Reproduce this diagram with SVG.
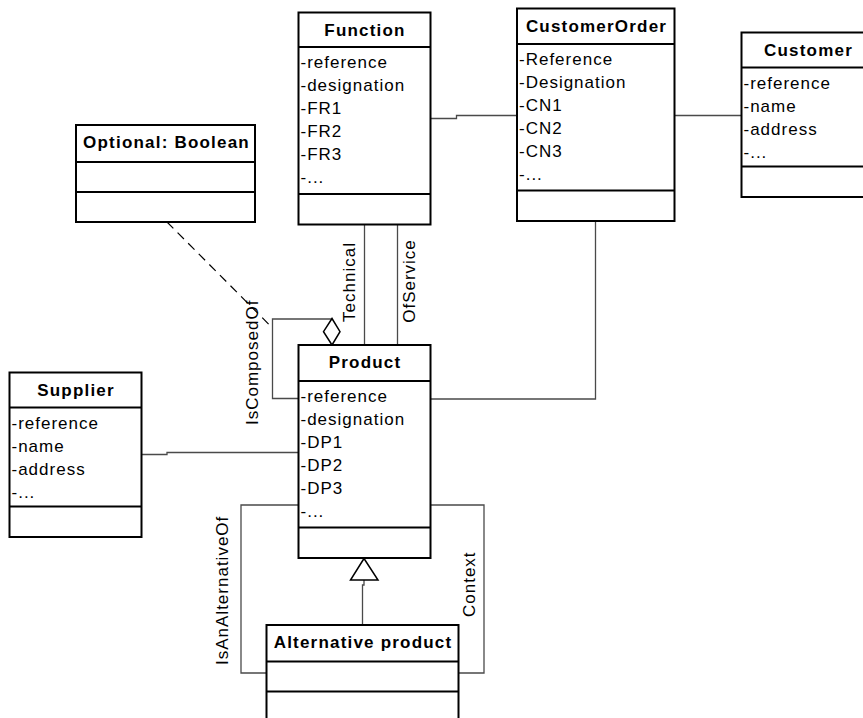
<svg xmlns="http://www.w3.org/2000/svg" width="863" height="718" viewBox="0 0 863 718">
<style>
.box{fill:#fff;stroke:#000;stroke-width:2}
.sep{stroke:#000;stroke-width:2}
.hd{font-family:"Liberation Sans",Arial,sans-serif;font-size:17px;font-weight:bold;letter-spacing:1.2px;text-anchor:middle;fill:#000}
.at{font-family:"Liberation Sans",Arial,sans-serif;font-size:17px;letter-spacing:1px;fill:#000}
.lb{font-family:"Liberation Sans",Arial,sans-serif;font-size:17px;letter-spacing:1px;fill:#000}
.cn{fill:none;stroke:#4a4a4a;stroke-width:1.3}
.dash{fill:none;stroke:#000;stroke-width:1.2;stroke-dasharray:9,6}
.sym{fill:#fff;stroke:#000;stroke-width:1.5}
</style>
<rect width="863" height="718" fill="#fff"/>

<g id="connectors">
<path class="cn" d="M430.5,118.5 H456.5 V115.5 H517"/>
<path class="cn" d="M674.5,115.5 H741.5"/>
<path class="cn" d="M364.5,224.5 V345"/>
<path class="cn" d="M397.5,224.5 V345"/>
<path class="cn" d="M595.5,221 V399 H430.5"/>
<path class="cn" d="M141.5,454.5 H167 V452.5 H298.5"/>
<path class="cn" d="M298.5,398.5 H272.5 V319 H332"/>
<polygon class="sym" points="332,318.5 340,331.7 332,345 323.5,331.7"/>
<path class="dash" d="M167,222 L272.5,328"/>
<path class="cn" d="M298.5,505 H241 V673 H266.5"/>
<path class="cn" d="M430.5,505 H484 V673 H458.5"/>
<path class="cn" d="M364,580 V585 H362.5 V625"/>
<polygon class="sym" points="364,558.5 378,580 350.5,580"/>
<text class="lb" transform="translate(355,282) rotate(-90)" text-anchor="middle">Technical</text>
<text class="lb" transform="translate(415,281) rotate(-90)" text-anchor="middle">OfService</text>
<text class="lb" transform="translate(257.5,425) rotate(-90)">IsComposedOf</text>
<text class="lb" transform="translate(228,665) rotate(-90)">IsAnAlternativeOf</text>
<text class="lb" transform="translate(475,617) rotate(-90)">Context</text>
</g>

<g id="function">
<rect class="box" x="298.5" y="12.5" width="132" height="212"/>
<line class="sep" x1="298.5" y1="47" x2="430.5" y2="47"/>
<line class="sep" x1="298.5" y1="194" x2="430.5" y2="194"/>
<text class="hd" x="365" y="35.5">Function</text>
<text class="at" x="300.5" y="68">-reference</text>
<text class="at" x="300.5" y="91">-designation</text>
<text class="at" x="300.5" y="114">-FR1</text>
<text class="at" x="300.5" y="137">-FR2</text>
<text class="at" x="300.5" y="160">-FR3</text>
<text class="at" x="300.5" y="183">-...</text>
</g>

<g id="customerorder">
<rect class="box" x="517" y="8.5" width="157.5" height="212.5"/>
<line class="sep" x1="517" y1="44" x2="674.5" y2="44"/>
<line class="sep" x1="517" y1="190.5" x2="674.5" y2="190.5"/>
<text class="hd" x="596.5" y="31.5">CustomerOrder</text>
<text class="at" x="519" y="64.5">-Reference</text>
<text class="at" x="519" y="87.5">-Designation</text>
<text class="at" x="519" y="110.5">-CN1</text>
<text class="at" x="519" y="133.5">-CN2</text>
<text class="at" x="519" y="156.5">-CN3</text>
<text class="at" x="519" y="179.5">-...</text>
</g>

<g id="customer">
<rect class="box" x="741.5" y="32.5" width="133" height="164.5"/>
<line class="sep" x1="741.5" y1="67.5" x2="874.5" y2="67.5"/>
<line class="sep" x1="741.5" y1="166.5" x2="874.5" y2="166.5"/>
<text class="hd" x="808.5" y="55.5">Customer</text>
<text class="at" x="743.5" y="88.5">-reference</text>
<text class="at" x="743.5" y="111.5">-name</text>
<text class="at" x="743.5" y="134.5">-address</text>
<text class="at" x="743.5" y="157.5">-...</text>
</g>

<g id="optional">
<rect class="box" x="76" y="125" width="179" height="97"/>
<line class="sep" x1="76" y1="162" x2="255" y2="162"/>
<line class="sep" x1="76" y1="192" x2="255" y2="192"/>
<text class="hd" x="166.5" y="148">Optional: Boolean</text>
</g>

<g id="product">
<rect class="box" x="298.5" y="345" width="132" height="213"/>
<line class="sep" x1="298.5" y1="381" x2="430.5" y2="381"/>
<line class="sep" x1="298.5" y1="527.5" x2="430.5" y2="527.5"/>
<text class="hd" x="365" y="368">Product</text>
<text class="at" x="300.5" y="401.5">-reference</text>
<text class="at" x="300.5" y="424.5">-designation</text>
<text class="at" x="300.5" y="447.5">-DP1</text>
<text class="at" x="300.5" y="470.5">-DP2</text>
<text class="at" x="300.5" y="493.5">-DP3</text>
<text class="at" x="300.5" y="516.5">-...</text>
</g>

<g id="supplier">
<rect class="box" x="9.5" y="372.5" width="132" height="164.5"/>
<line class="sep" x1="9.5" y1="407.5" x2="141.5" y2="407.5"/>
<line class="sep" x1="9.5" y1="506.5" x2="141.5" y2="506.5"/>
<text class="hd" x="76" y="395.5">Supplier</text>
<text class="at" x="11.5" y="428.5">-reference</text>
<text class="at" x="11.5" y="451.5">-name</text>
<text class="at" x="11.5" y="474.5">-address</text>
<text class="at" x="11.5" y="497.5">-...</text>
</g>

<g id="alternative">
<rect class="box" x="266.5" y="625" width="192" height="98"/>
<line class="sep" x1="266.5" y1="661.5" x2="458.5" y2="661.5"/>
<line class="sep" x1="266.5" y1="691.5" x2="458.5" y2="691.5"/>
<text class="hd" x="363" y="648">Alternative product</text>
</g>
</svg>
